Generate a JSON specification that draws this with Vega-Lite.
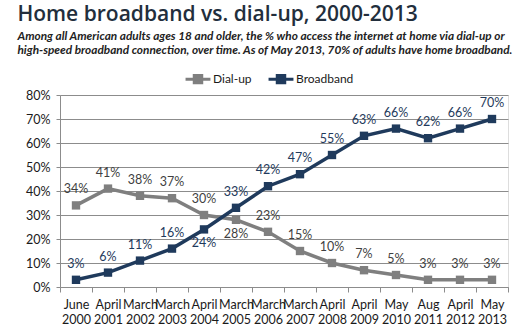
{
  "$schema": "https://vega.github.io/schema/vega-lite/v6.json",
  "autosize": {"type": "fit", "contains": "padding"},
  "width": 521,
  "height": 332,
  "padding": {"left": 17, "right": 12, "top": 4, "bottom": 6},
  "background": "white",
  "title": {
    "text": "Home broadband vs. dial-up, 2000-2013",
    "subtitle": ["Among all American adults ages 18 and older, the % who access the internet at home via dial-up or", "high-speed broadband connection, over time. As of May 2013, 70% of adults have home broadband."],
    "anchor": "start",
    "frame": "bounds",
    "dx": -8,
    "font": "Open Sans",
    "fontSize": 21,
    "fontWeight": 600,
    "color": "#222e3c",
    "subtitleFont": "Lato",
    "subtitleFontSize": 11.8,
    "subtitleFontStyle": "italic",
    "subtitleFontWeight": "bold",
    "subtitleColor": "#222222",
    "subtitleLineHeight": 14,
    "subtitlePadding": 6,
    "offset": 32
  },
  "data": {
    "values": [
      {"date": "June 2000", "series": "Dial-up", "value": 34},
      {"date": "April 2001", "series": "Dial-up", "value": 41},
      {"date": "March 2002", "series": "Dial-up", "value": 38},
      {"date": "March 2003", "series": "Dial-up", "value": 37},
      {"date": "April 2004", "series": "Dial-up", "value": 30},
      {"date": "March 2005", "series": "Dial-up", "value": 28},
      {"date": "March 2006", "series": "Dial-up", "value": 23},
      {"date": "March 2007", "series": "Dial-up", "value": 15},
      {"date": "April 2008", "series": "Dial-up", "value": 10},
      {"date": "April 2009", "series": "Dial-up", "value": 7},
      {"date": "May 2010", "series": "Dial-up", "value": 5},
      {"date": "Aug 2011", "series": "Dial-up", "value": 3},
      {"date": "April 2012", "series": "Dial-up", "value": 3},
      {"date": "May 2013", "series": "Dial-up", "value": 3},
      {"date": "June 2000", "series": "Broadband", "value": 3},
      {"date": "April 2001", "series": "Broadband", "value": 6},
      {"date": "March 2002", "series": "Broadband", "value": 11},
      {"date": "March 2003", "series": "Broadband", "value": 16},
      {"date": "April 2004", "series": "Broadband", "value": 24},
      {"date": "March 2005", "series": "Broadband", "value": 33},
      {"date": "March 2006", "series": "Broadband", "value": 42},
      {"date": "March 2007", "series": "Broadband", "value": 47},
      {"date": "April 2008", "series": "Broadband", "value": 55},
      {"date": "April 2009", "series": "Broadband", "value": 63},
      {"date": "May 2010", "series": "Broadband", "value": 66},
      {"date": "Aug 2011", "series": "Broadband", "value": 62},
      {"date": "April 2012", "series": "Broadband", "value": 66},
      {"date": "May 2013", "series": "Broadband", "value": 70}
    ]
  },
  "encoding": {
    "x": {
      "field": "date",
      "type": "ordinal",
      "sort": null,
      "scale": {"paddingInner": 0, "paddingOuter": 0},
      "axis": {
        "title": null,
        "labelAngle": 0,
        "labelExpr": "split(datum.label, ' ')",
        "labelFont": "Lato",
        "labelFontSize": 12.5,
        "labelColor": "#1a1a1a",
        "labelLineHeight": 15,
        "labelPadding": 6,
        "labelOverlap": false,
        "tickBand": "extent",
        "tickSize": 5,
        "tickColor": "#8c8c8c",
        "domainColor": "#8c8c8c",
        "grid": false
      }
    },
    "y": {
      "field": "value",
      "type": "quantitative",
      "scale": {"domain": [0, 80]},
      "axis": {
        "title": null,
        "values": [0, 10, 20, 30, 40, 50, 60, 70, 80],
        "labelExpr": "datum.value + '%'",
        "labelFont": "Lato",
        "labelFontSize": 12.5,
        "labelColor": "#1a1a1a",
        "labelPadding": 6,
        "tickSize": 4,
        "tickColor": "#8c8c8c",
        "domainColor": "#8c8c8c",
        "gridColor": "#8c8c8c",
        "gridWidth": 1
      }
    }
  },
  "layer": [
    {
      "mark": {"type": "line", "strokeWidth": 3.5},
      "encoding": {
        "color": {
          "field": "series",
          "type": "nominal",
          "scale": {"domain": ["Dial-up", "Broadband"], "range": ["#7f7f7f", "#1f3a5c"]},
          "legend": {
            "title": null,
            "orient": "none",
            "legendX": 124,
            "legendY": -30,
            "direction": "horizontal",
            "labelFont": "Lato",
            "labelFontSize": 12,
            "labelColor": "#1a1a1a",
            "symbolType": "M-1,0L1,0M-0.3,-0.3L0.3,-0.3L0.3,0.3L-0.3,0.3Z",
            "symbolSize": 620,
            "symbolStrokeWidth": 3,
            "columnPadding": 10,
            "labelOffset": 1
          }
        }
      }
    },
    {
      "mark": {"type": "point", "shape": "square", "filled": true, "opacity": 1, "size": 70},
      "encoding": {"color": {"field": "series", "type": "nominal"}}
    },
    {
      "transform": [{"filter": "!((datum.series === 'Dial-up' && datum.date === 'March 2005') || (datum.series === 'Broadband' && datum.date === 'April 2004'))"}],
      "mark": {"type": "text", "dy": -16, "font": "Lato", "fontSize": 12.5, "text": {"expr": "datum.value + '%'"}},
      "encoding": {
        "color": {"condition": {"test": "datum.series === 'Dial-up'", "value": "#3f3f3f"}, "value": "#1f3a5c"}
      }
    },
    {
      "transform": [{"filter": "(datum.series === 'Dial-up' && datum.date === 'March 2005') || (datum.series === 'Broadband' && datum.date === 'April 2004')"}],
      "mark": {"type": "text", "dy": 14, "font": "Lato", "fontSize": 12.5, "text": {"expr": "datum.value + '%'"}},
      "encoding": {
        "color": {"condition": {"test": "datum.series === 'Dial-up'", "value": "#3f3f3f"}, "value": "#1f3a5c"}
      }
    }
  ]
}
